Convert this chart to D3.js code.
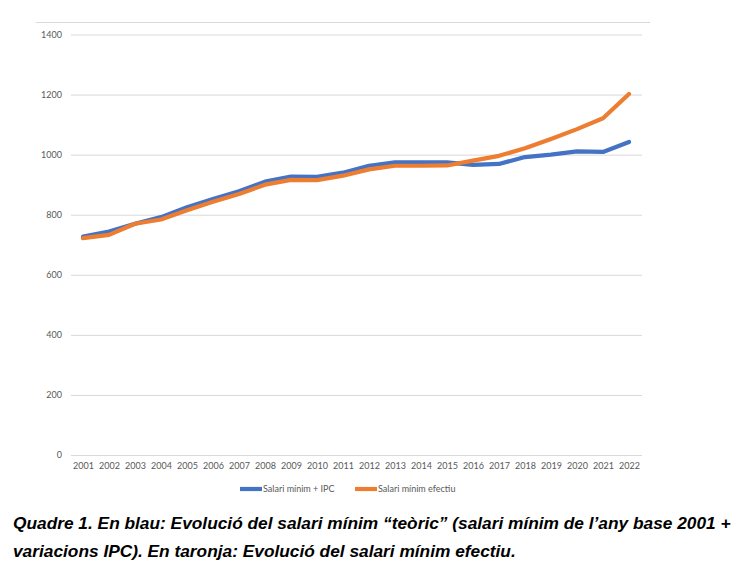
<!DOCTYPE html>
<html>
<head>
<meta charset="utf-8">
<script src="https://cdn.jsdelivr.net/npm/d3@7"></script>
<style>
  body { margin: 0; background: #fff; }
  svg { display: block; }
</style>
</head>
<body>
<div id="chart"></div>
<script>
// data
const years = ["2001","2002","2003","2004","2005","2006","2007","2008","2009","2010","2011",
               "2012","2013","2014","2015","2016","2017","2018","2019","2020","2021","2022"];
const salariIPC = [727, 744, 770, 792, 825, 852, 878, 910, 927, 926, 940,
                   963, 974, 974, 974, 966, 969, 992, 1000, 1011, 1009, 1042];
const salariEfectiu = [722, 733, 770, 784, 815, 843, 869, 900, 916, 915, 930,
                       951, 963, 963, 964, 980, 996, 1021, 1052, 1085, 1121, 1202];
const yTicks = [0, 200, 400, 600, 800, 1000, 1200, 1400];
const seriesNames = ["Salari mínim + IPC", "Salari mínim efectiu"];
const captionLines = [
  "Quadre 1. En blau: Evolució del salari mínim “teòric” (salari mínim de l’any base 2001 +",
  "variacions IPC). En taronja: Evolució del salari mínim efectiu."
];

const W = 747, H = 564;
const colors = ["#4472C4", "#ED7D31"];

const svg = d3.select("#chart").append("svg")
    .attr("width", W)
    .attr("height", H);

// chart frame top border
svg.append("line")
    .attr("x1", 36).attr("x2", 650)
    .attr("y1", 22.5).attr("y2", 22.5)
    .attr("stroke", "#d9d9d9")
    .attr("stroke-width", 1.2);

const x = d3.scalePoint()
    .domain(years)
    .range([83, 629]);

const y = d3.scaleLinear()
    .domain([0, 1400])
    .range([455, 34.5]);

// gridlines + y labels
const yAxis = d3.axisLeft(y)
    .tickValues(yTicks)
    .tickSize(-(642 - 71))
    .tickPadding(9)
    .tickFormat(d3.format("d"));

const gy = svg.append("g")
    .attr("transform", "translate(71,0)")
    .call(yAxis);
gy.select(".domain").remove();
gy.selectAll(".tick line").attr("stroke", "#d9d9d9").attr("stroke-width", 1);
gy.selectAll(".tick text")
    .attr("fill", "#595959")
    .style("font-family", "Lato, 'Open Sans', sans-serif")
    .style("font-size", "9px");

// x labels
const xAxis = d3.axisBottom(x).tickSize(0).tickPadding(8);
const gx = svg.append("g")
    .attr("transform", "translate(0,455)")
    .call(xAxis);
gx.select(".domain").remove();
gx.selectAll(".tick text")
    .attr("fill", "#595959")
    .style("font-family", "Lato, 'Open Sans', sans-serif")
    .style("font-size", "9px");

// lines
const line = d3.line()
    .x((d, i) => x(years[i]))
    .y(d => y(d));

[salariIPC, salariEfectiu].forEach((vals, k) => {
  svg.append("path")
      .datum(vals)
      .attr("fill", "none")
      .attr("stroke", colors[k])
      .attr("stroke-width", 4.2)
      .attr("stroke-linejoin", "round")
      .attr("stroke-linecap", "round")
      .attr("d", line);
});

// legend
const legendX = [240, 355];
seriesNames.forEach((name, k) => {
  const g = svg.append("g").attr("transform", `translate(${legendX[k]},489)`);
  g.append("line")
      .attr("x1", 0).attr("x2", 22)
      .attr("stroke", colors[k])
      .attr("stroke-width", 4.2);
  g.append("text")
      .attr("x", 23)
      .attr("y", 3)
      .attr("fill", "#595959")
      .style("font-family", "Lato, 'Open Sans', sans-serif")
      .style("font-size", "9px")
      .text(name);
});

// caption (condensed bold italic, sized so the first line spans ~13..731)
const caption = svg.selectAll(".caption")
  .data(captionLines)
  .join("text")
    .attr("class", "caption")
    .attr("x", 13)
    .attr("y", (d, i) => 529 + i * 28)
    .attr("fill", "#000")
    .style("font-family", "'Liberation Sans Narrow', 'Liberation Sans', Arial, sans-serif")
    .style("font-weight", "bold")
    .style("font-style", "italic")
    .style("font-size", "18px")
    .text(d => d);

const w0 = caption.node().getComputedTextLength();
const fs = Math.min(19, 18 * 718 / w0);
caption.style("font-size", fs + "px");
</script>
</body>
</html>
